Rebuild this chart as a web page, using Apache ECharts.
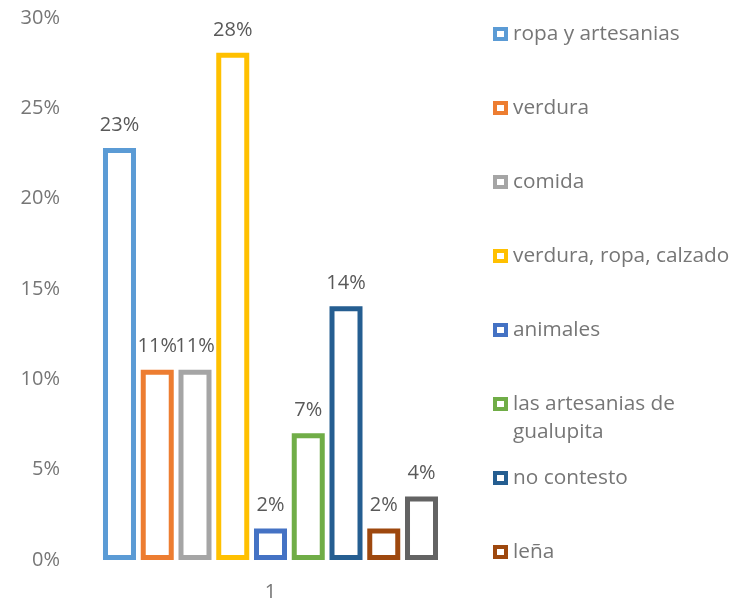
<!DOCTYPE html>
<html>
<head>
<meta charset="utf-8">
<script src="https://cdn.jsdelivr.net/npm/echarts@6/dist/echarts.min.js"></script>
<style>
  html, body { margin: 0; padding: 0; background: #ffffff; }
  #chart { width: 733px; height: 602px; }
</style>
</head>
<body>
<div id="chart"></div>
<script>
// Survey answers, share of respondents per product
const categories = ['1'];
const seriesNames = [
  'ropa y artesanias',
  'verdura',
  'comida',
  'verdura, ropa, calzado',
  'animales',
  'las artesanias de gualupita',
  'no contesto',
  'leña',
  'otros'
];
const seriesValues = [0.228, 0.1053, 0.1053, 0.2807, 0.0175, 0.0702, 0.1404, 0.0175, 0.0351];
const seriesColors = ['#5B9BD5', '#ED7D31', '#A5A5A5', '#FFC000', '#4472C4', '#70AD47', '#255E91', '#9E480E', '#636363'];
const yTicks = [0, 0.05, 0.10, 0.15, 0.20, 0.25, 0.30];
// names shown in the legend (the last one falls below the visible area)
const legendNames = seriesNames.slice(0, 8);
// long names wrap; the leading blank line keeps the first line level with the icon
const legendWrapped = { 'las artesanias de gualupita': '\nlas artesanias de\ngualupita' };

const FONT = '"Open Sans", sans-serif';
const TEXT_GREY = '#767676';
const pct = v => Math.round(v * 100) + '%';

// hollow square legend marker
const HOLLOW_SQUARE = 'path://M0,0H15V14H0Z M4,4V10H11V4Z';

const series = seriesNames.map((name, i) => ({
  name: name,
  type: 'bar',
  data: [seriesValues[i]],
  barWidth: 33,
  barGap: '14.4%',
  itemStyle: { color: '#ffffff', borderColor: seriesColors[i], borderWidth: 5 },
  label: {
    show: true,
    position: 'top',
    distance: 13,
    formatter: p => pct(p.value),
    color: '#595959',
    fontFamily: FONT,
    fontSize: 20
  },
  emphasis: { disabled: true }
}));

const LINE_H = 28;
const legends = legendNames.map((name, i) => {
  const wrapped = legendWrapped[name];
  const extra = wrapped ? LINE_H : 0;
  return {
    left: 488,
    top: 15 + 74 * i - extra,
    orient: 'vertical',
    data: [name],
    icon: HOLLOW_SQUARE,
    itemWidth: 15,
    itemHeight: 14,
    itemGap: 0,
    itemStyle: { color: seriesColors[i], borderWidth: 0 },
    formatter: n => legendWrapped[n] || n,
    textStyle: {
      color: TEXT_GREY,
      fontFamily: FONT,
      fontSize: 20.8,
      lineHeight: LINE_H
    },
    selectedMode: false
  };
});

const chart = echarts.init(document.getElementById('chart'), null, { renderer: 'canvas' });
chart.setOption({
  animation: false,
  backgroundColor: '#ffffff',
  grid: { left: 72, right: 264, top: 18, bottom: 40, containLabel: false },
  legend: legends,
  xAxis: {
    type: 'category',
    data: categories,
    axisLine: { show: false },
    axisTick: { show: false },
    axisLabel: { color: TEXT_GREY, fontFamily: FONT, fontSize: 20, margin: 22 }
  },
  yAxis: {
    type: 'value',
    min: yTicks[0],
    max: yTicks[yTicks.length - 1],
    interval: 0.05,
    axisLine: { show: false },
    axisTick: { show: false },
    splitLine: { show: false },
    axisLabel: {
      color: TEXT_GREY,
      fontFamily: FONT,
      fontSize: 20,
      margin: 12,
      formatter: v => pct(v)
    }
  },
  series: series
});
</script>
</body>
</html>
